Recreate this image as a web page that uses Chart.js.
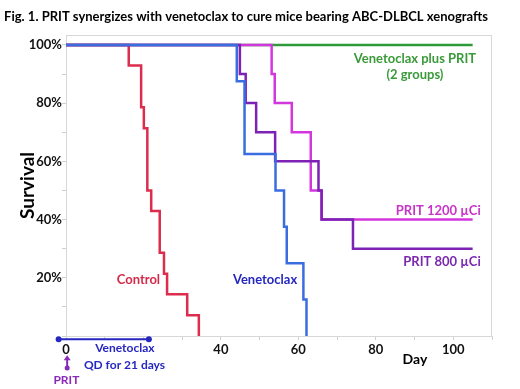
<!DOCTYPE html>
<html><head><meta charset="utf-8">
<style>html,body{margin:0;padding:0;background:#fff;}#wrap{width:520px;height:389px;}</style>
<script src="https://cdn.jsdelivr.net/npm/chart.js@4"></script>
</head><body><div id="wrap"><canvas id="c" width="520" height="389"></canvas></div>
<script>
const titleText = "Fig. 1. PRIT synergizes with venetoclax to cure mice bearing ABC-DLBCL xenografts";
const xTickValues = [0,10,20,30,40,50,60,70,80,90,100,110];
const xTickLabels = ["0","","","","40","","60","","80","","100",""];
const yTickValues = [0,10,20,30,40,50,60,70,80,90,100];
const yTickLabels = ["","","20%","","40%","","60%","","80%","","100%"];

const controlDays = [0,16.2,19.4,20.1,21.0,22.0,24.2,25.3,26.1,31.3,34.3];
const controlSurv = [100,92.9,78.6,71.4,50,42.9,28.6,21.4,14.3,7.1,0];
const venDays = [0,44.1,46.1,54.1,56.3,57.0,61.3,62.1];
const venSurv = [100,87.5,62.5,50,37.5,25,12.5,0];
const prit800Days = [0,44.9,46.4,49.1,54.0,65.2,66.0,74.1,105];
const prit800Surv = [100,90,80,70,60,50,40,30,30];
const prit1200Days = [0,53.1,53.9,58.3,63.2,66.0,105];
const prit1200Surv = [100,90,80,70,50,40,40];
const comboDays = [0,105];
const comboSurv = [100,100];
const treatStart = -1.9, treatEnd = 21.4;

const pts = (d,s) => d.map((x,i)=>({x:x,y:s[i]}));
const F = 'Lato';

function ds(label, d, s, color){
  return {label, data: pts(d,s), borderColor: color, backgroundColor: color,
    borderWidth: 2.5, pointRadius: 0, stepped: 'before', fill: false, tension: 0};
}

const framePlugin = {
  id: 'frame',
  beforeDatasetsDraw(chart){
    const {ctx, chartArea: a} = chart;
    ctx.save();
    ctx.strokeStyle = '#d8d8d8'; ctx.lineWidth = 1;
    ctx.strokeRect(a.left+0.5, a.top+0.5, a.right-a.left-1, a.bottom-a.top);
    ctx.restore();
  }
};

const annoPlugin = {
  id: 'anno',
  afterDraw(chart){
    const {ctx} = chart;
    const xs = chart.scales.x, ys = chart.scales.y;
    const X = v => xs.getPixelForValue(v), Y = v => ys.getPixelForValue(v);
    function t(str, dx, py, color, size, align){
      ctx.font = 'bold ' + size + 'px ' + F;
      ctx.fillStyle = color; ctx.textAlign = align || 'center'; ctx.textBaseline = 'middle';
      ctx.fillText(str, X(dx), Y(py));
    }
    ctx.save();
    t('Venetoclax plus PRIT', 90.1, 95.3, '#3a9a3a', 13);
    t('(2 groups)', 90.1, 89.6, '#3a9a3a', 13);
    t('PRIT 1200 \u00b5Ci', 107.1, 43.1, '#c834c8', 13, 'right');
    t('PRIT 800 \u00b5Ci', 107.1, 25.4, '#7a28b0', 13, 'right');
    t('Control', 18.7, 19.3, '#d42a4a', 13);
    t('Venetoclax', 51.4, 19.3, '#2626c0', 13);
    t('Day', 90.1, -7.9, '#000', 14);
    t('Venetoclax', 15.2, -4.1, '#2626c0', 12);
    t('QD for 21 days', 15.1, -10, '#2626c0', 12);
    t('PRIT', 0.1, -15.1, '#8a2ab8', 12);
    // treatment bar
    const ty = Y(-1.1);
    ctx.strokeStyle = '#2626c0'; ctx.fillStyle = '#2626c0'; ctx.lineWidth = 2;
    ctx.beginPath(); ctx.moveTo(X(treatStart), ty); ctx.lineTo(X(treatEnd), ty); ctx.stroke();
    [treatStart, treatEnd].forEach(v => { ctx.beginPath(); ctx.arc(X(v), ty, 3, 0, Math.PI*2); ctx.fill(); });
    // PRIT arrow
    const ax = X(0.3), aTop = Y(-6.6), aBot = Y(-11);
    ctx.strokeStyle = '#8a2ab8'; ctx.fillStyle = '#8a2ab8'; ctx.lineWidth = 2;
    ctx.beginPath(); ctx.moveTo(ax, aBot); ctx.lineTo(ax, aTop+2); ctx.stroke();
    ctx.beginPath(); ctx.moveTo(ax, aTop); ctx.lineTo(ax-3.5, aTop+5); ctx.lineTo(ax+3.5, aTop+5); ctx.closePath(); ctx.fill();
    ctx.beginPath(); ctx.arc(ax, aBot, 2.5, 0, Math.PI*2); ctx.fill();
    ctx.restore();
  }
};

new Chart(document.getElementById('c'), {
  type: 'line',
  data: { datasets: [
    ds('Venetoclax', venDays, venSurv, '#3a6ee0'),
    ds('PRIT 800 µCi', prit800Days, prit800Surv, '#7d22b5'),
    ds('PRIT 1200 µCi', prit1200Days, prit1200Surv, '#d237de'),
    ds('Control', controlDays, controlSurv, '#dc2d4d'),
    ds('Venetoclax plus PRIT', comboDays, comboSurv, '#2e9b3a')
  ]},
  options: {
    responsive: false, animation: false, devicePixelRatio: 1,
    layout: { padding: {left:0, right:28, top:0, bottom:0} },
    plugins: {
      legend: {display:false}, tooltip: {enabled:false},
      title: { display: true, text: titleText, color: '#000',
        font: {family: F, weight: 'bold', size: 13}, padding: {top: 9, bottom: 10.4} }
    },
    scales: {
      x: { type: 'linear', min: 0, max: 110,
        afterBuildTicks: s => { s.ticks = xTickValues.map(v => ({value: v})); },
        afterFit: s => { s.height = 53; },
        ticks: { autoSkip: false, maxRotation: 0, padding: 2, color: '#111',
          font: {family: F, weight: 'bold', size: 13},
          callback: (v, i) => xTickLabels[xTickValues.indexOf(v)] || '' },
        grid: { drawOnChartArea: false, tickLength: 4, color: '#cfcfcf' },
        border: { color: '#d8d8d8' }
      },
      y: { type: 'linear', min: 0, max: 103.4,
        afterBuildTicks: s => { s.ticks = yTickValues.map(v => ({value: v})); },
        afterFit: s => { s.width = 66; },
        ticks: { autoSkip: false, padding: 0, color: '#111',
          font: {family: F, weight: 'bold', size: 13},
          callback: (v) => yTickLabels[yTickValues.indexOf(v)] || '' },
        grid: { drawOnChartArea: false, tickLength: 4, color: '#cfcfcf' },
        border: { color: '#d8d8d8' },
        title: { display: true, text: 'Survival', color: '#000',
          font: {family: F, weight: 'bold', size: 19}, padding: {top: 16, bottom: 0} }
      }
    }
  },
  plugins: [framePlugin, annoPlugin]
});
</script></body></html>
